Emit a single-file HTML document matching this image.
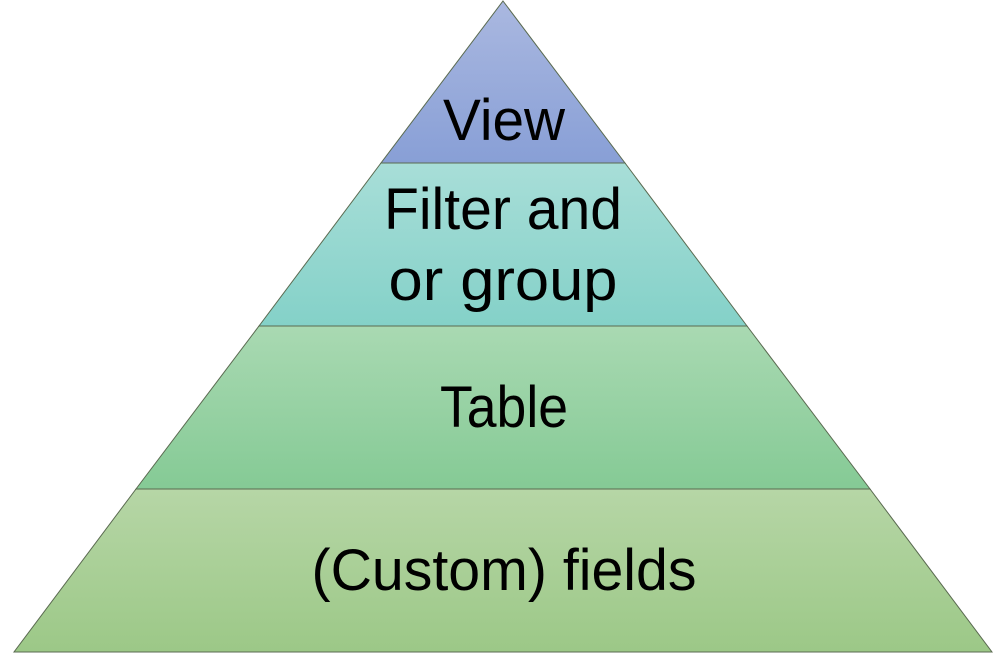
<!DOCTYPE html>
<html><head><meta charset="utf-8"><style>html,body{margin:0;padding:0;background:#fff}svg{display:block}</style></head>
<body>
<svg width="1005" height="667" viewBox="0 0 1005 667" xmlns="http://www.w3.org/2000/svg">
<defs>
<linearGradient id="g1" x1="0" y1="0" x2="0" y2="1"><stop offset="0" stop-color="#aab8e0"/><stop offset="1" stop-color="#889fd6"/></linearGradient>
<linearGradient id="g2" x1="0" y1="0" x2="0" y2="1"><stop offset="0" stop-color="#a8ded8"/><stop offset="1" stop-color="#84d1c8"/></linearGradient>
<linearGradient id="g3" x1="0" y1="0" x2="0" y2="1"><stop offset="0" stop-color="#a9d9b2"/><stop offset="1" stop-color="#85ca95"/></linearGradient>
<linearGradient id="g4" x1="0" y1="0" x2="0" y2="1"><stop offset="0" stop-color="#b6d6a6"/><stop offset="1" stop-color="#9cc887"/></linearGradient>
</defs>
<g stroke="#5a6a50" stroke-width="1">
<polygon points="503,1 625,163 381,163" fill="url(#g1)"/>
<polygon points="381,163 625,163 747,326 259,326" fill="url(#g2)"/>
<polygon points="259,326 747,326 870,489 136,489" fill="url(#g3)"/>
<polygon points="136,489 870,489 992,652 14,652" fill="url(#g4)"/>
</g>
<g font-family="Liberation Sans, sans-serif" font-size="58" fill="#000" text-anchor="middle" lengthAdjust="spacingAndGlyphs">
<text x="504" y="140" textLength="122" lengthAdjust="spacingAndGlyphs">View</text>
<text x="503" y="229" textLength="238" lengthAdjust="spacingAndGlyphs">Filter and</text>
<text x="503" y="300" textLength="229" lengthAdjust="spacingAndGlyphs">or group</text>
<text x="504" y="427" textLength="128" lengthAdjust="spacingAndGlyphs">Table</text>
<text x="504" y="590" textLength="385" lengthAdjust="spacingAndGlyphs">(Custom) fields</text>
</g>
</svg>
</body></html>
